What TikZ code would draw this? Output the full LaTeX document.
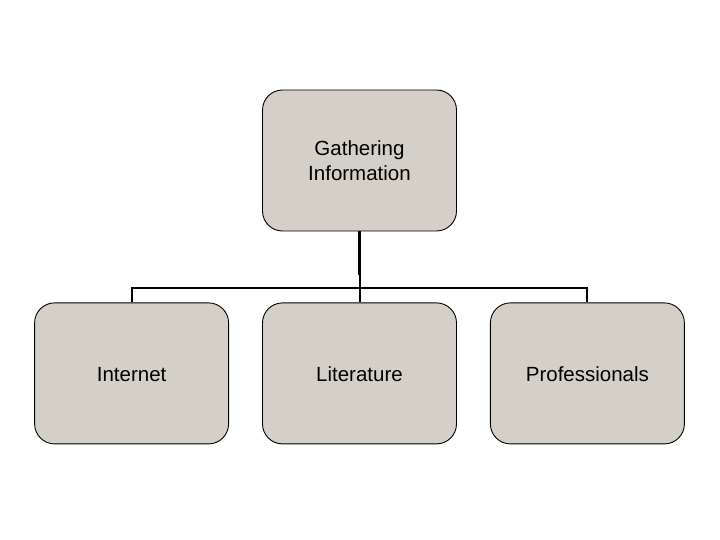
\documentclass[tikz,border=0pt]{standalone}
\usepackage{fontspec}
\setmainfont{Liberation Sans}
\definecolor{boxgray}{RGB}{212,208,200}
\usetikzlibrary{positioning}

\begin{document}
\begin{tikzpicture}
  \tikzset{
    orgbox/.style={draw,fill=boxgray,rounded corners=20pt,line width=0.9pt,
                   minimum width=194pt,minimum height=141pt,
                   font=\fontsize{20.5}{25}\selectfont,align=center},
    leafbox/.style={orgbox,text height=18pt,text depth=1.5pt},
    orgline/.style={line width=2pt}
  }
  %% Page frame
  \useasboundingbox (0,0) rectangle (720pt,-540pt);

  %% Top box
  \node[orgbox] (gather) at (359.5pt,-160.5pt) {Gathering\\Information};

  %% Children
  \node[leafbox,below=71pt of gather] (lit) {Literature};
  \node[leafbox,left=33pt of lit] (inet) {Internet};
  \node[leafbox,right=33pt of lit] (prof) {Professionals};

  %% Connectors
  \coordinate (bus) at ([yshift=14pt]lit.north);
  \draw[orgline] (inet.north) |- (bus) -| (prof.north);
  \draw[orgline] (lit.north) -- (bus) -- (gather.south);
  \draw[line width=3pt] (gather.south) -- ++(0,-44pt);
\end{tikzpicture}
\end{document}
